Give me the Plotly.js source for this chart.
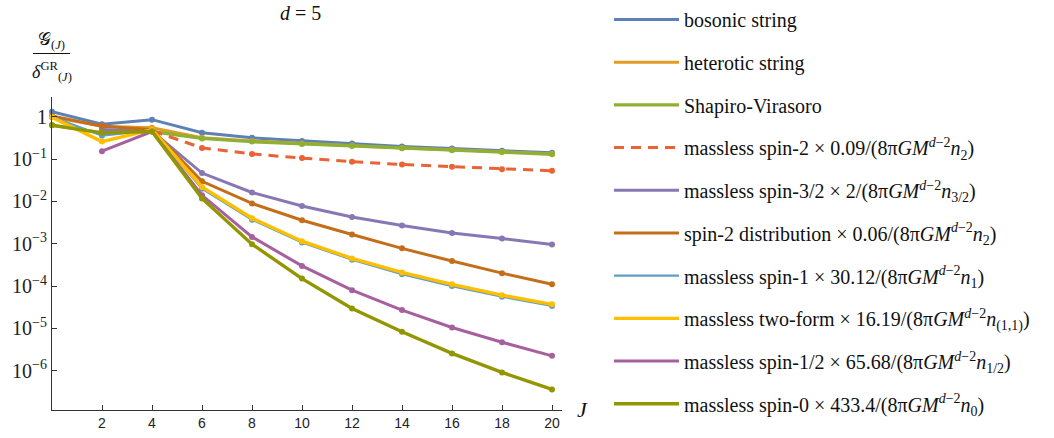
<!DOCTYPE html>
<html>
<head>
<meta charset="utf-8">
<script src="https://cdn.plot.ly/plotly-3.0.1.min.js"></script>
<style>html,body{margin:0;padding:0;background:#fff;}#chart{width:1054px;height:438px;}</style>
</head>
<body>
<div id="chart"></div>
<script>
// J values
const J = [0, 2, 4, 6, 8, 10, 12, 14, 16, 18, 20];

// Series values (null = no point)
const bosonic      = [1.33, 0.67, 0.86, 0.42, 0.32, 0.27, 0.235, 0.20, 0.178, 0.158, 0.141];
const heterotic    = [1.00, 0.60, 0.55, 0.32, 0.27, 0.235, 0.21, 0.185, 0.168, 0.150, 0.134];
const shapiro      = [0.64, 0.42, 0.45, 0.31, 0.26, 0.23, 0.205, 0.182, 0.163, 0.147, 0.131];
const spin2        = [null, 0.62, 0.47, 0.185, 0.133, 0.106, 0.087, 0.075, 0.066, 0.058, 0.053];
const spin32       = [null, 0.50, 0.46, 0.047, 0.0163, 0.0078, 0.0043, 0.0027, 0.0018, 0.00133, 0.00096];
const spin2dist    = [1.05, 0.60, 0.50, 0.030, 0.0090, 0.0036, 0.00166, 0.00078, 0.00039, 0.000202, 0.000110];
const spin1        = [1.00, 0.36, 0.48, 0.020, 0.0037, 0.00107, 0.00042, 0.00019, 0.000100, 0.000056, 0.000034];
const twoform      = [0.98, 0.26, 0.50, 0.022, 0.0040, 0.00115, 0.00045, 0.00021, 0.000110, 0.000061, 0.000037];
const spin12       = [null, 0.155, 0.45, 0.014, 0.00145, 0.00030, 0.000080, 0.000027, 0.0000105, 0.0000047, 0.00000224];
const spin0        = [0.63, 0.42, 0.45, 0.0118, 0.00098, 0.00015, 0.0000295, 0.0000083, 0.00000256, 0.00000091, 0.00000036];

const names = [
  "bosonic string",
  "heterotic string",
  "Shapiro-Virasoro",
  "massless spin-2 × 0.09/(8π<i>GM</i><sup><i>d</i>−2</sup><i>n</i><sub>2</sub>)",
  "massless spin-3/2 × 2/(8π<i>GM</i><sup><i>d</i>−2</sup><i>n</i><sub>3/2</sub>)",
  "spin-2 distribution × 0.06/(8π<i>GM</i><sup><i>d</i>−2</sup><i>n</i><sub>2</sub>)",
  "massless spin-1 × 30.12/(8π<i>GM</i><sup><i>d</i>−2</sup><i>n</i><sub>1</sub>)",
  "massless two-form × 16.19/(8π<i>GM</i><sup><i>d</i>−2</sup><i>n</i><sub>(1,1)</sub>)",
  "massless spin-1/2 × 65.68/(8π<i>GM</i><sup><i>d</i>−2</sup><i>n</i><sub>1/2</sub>)",
  "massless spin-0 × 433.4/(8π<i>GM</i><sup><i>d</i>−2</sup><i>n</i><sub>0</sub>)"
];
const series = [bosonic, heterotic, shapiro, spin2, spin32, spin2dist, spin1, twoform, spin12, spin0];
const colors = ["#5E81B5", "#E19C24", "#8FB032", "#EB6235", "#8778B3", "#C56E1A", "#5D9EC7", "#FFBF00", "#A5609D", "#929600"];
const widths = [3, 3, 3.4, 3, 3, 3, 2.2, 3.4, 3, 3.4];

const yTickVals = [1, 1e-1, 1e-2, 1e-3, 1e-4, 1e-5, 1e-6];
const yTickText = ["1", "10<sup>−1</sup>", "10<sup>−2</sup>", "10<sup>−3</sup>", "10<sup>−4</sup>", "10<sup>−5</sup>", "10<sup>−6</sup>"];
const xTickVals = [2, 4, 6, 8, 10, 12, 14, 16, 18, 20];

const traces = [];
series.forEach((s, i) => {
  traces.push({
    x: J, y: s, type: "scatter", mode: "lines",
    name: names[i], legendgroup: "g" + i,
    line: {color: colors[i], width: widths[i], dash: i === 3 ? "10px,7px" : "solid"},
    connectgaps: false, cliponaxis: false, hoverinfo: "skip"
  });
  traces.push({
    x: J, y: s, type: "scatter", mode: "markers",
    showlegend: false, legendgroup: "g" + i,
    marker: {color: colors[i], size: 6},
    cliponaxis: false, hoverinfo: "skip"
  });
});

const W = 1054, H = 438;
const L = 52, R = 562, T = 97, B = 410;
const px = (x) => (x - L) / (R - L);
const py = (y) => (B - y) / (B - T);
const SERIF = "'Liberation Serif', 'DejaVu Serif', serif";

const layout = {
  width: W, height: H,
  font: {family: SERIF},
  margin: {l: L, r: W - R, t: T, b: H - B, pad: 0, autoexpand: false},
  paper_bgcolor: "#fff", plot_bgcolor: "#fff",
  showlegend: true,
  legend: {
    x: px(609), xanchor: "left",
    yref: "container", y: 1, yanchor: "top",
    maxheight: 1,
    font: {family: SERIF, size: 20, color: "#111"},
    tracegroupgap: 13.7, itemwidth: 65, bgcolor: "rgba(0,0,0,0)",
    traceorder: "grouped", borderwidth: 0
  },
  xaxis: {
    range: [0, 20.4], showgrid: false, zeroline: false,
    showline: true, linecolor: "#333", linewidth: 1,
    ticks: "inside", ticklen: 5, tickcolor: "#333",
    tickvals: xTickVals, ticktext: xTickVals.map(String),
    tickfont: {family: "'Liberation Sans', Arial, sans-serif", size: 14, color: "#222"}
  },
  yaxis: {
    type: "log", range: [-6.93, 0.47], showgrid: false, zeroline: false,
    showline: true, linecolor: "#333", linewidth: 1,
    ticks: "inside", ticklen: 5, tickcolor: "#333",
    tickvals: yTickVals, ticktext: yTickText,
    tickfont: {family: SERIF, size: 20, color: "#222"}
  },
  annotations: [
    {text: "<i>d</i> = 5", xref: "paper", yref: "paper", x: px(300), y: py(13),
     xanchor: "center", yanchor: "middle", showarrow: false,
     font: {family: SERIF, size: 20, color: "#111"}},
    {text: "<i>J</i>", xref: "paper", yref: "paper", x: px(582), y: py(409),
     xanchor: "center", yanchor: "middle", showarrow: false,
     font: {family: SERIF, size: 22, color: "#111"}},
    {text: "𝒢<sub>(<i>J</i>)</sub>", xref: "paper", yref: "paper", x: px(51), y: py(41),
     xanchor: "center", yanchor: "middle", showarrow: false,
     font: {family: SERIF, size: 18, color: "#111"}},
    {text: "<i>δ</i><sup>GR</sup><sub>(<i>J</i>)</sub>", xref: "paper", yref: "paper", x: px(52), y: py(71),
     xanchor: "center", yanchor: "middle", showarrow: false,
     font: {family: SERIF, size: 18, color: "#111"}}
  ],
  shapes: [
    {type: "line", xref: "paper", yref: "paper", x0: px(33), x1: px(70), y0: py(53.5), y1: py(53.5),
     line: {color: "#111", width: 1}}
  ]
};

Plotly.newPlot("chart", traces, layout, {displayModeBar: false, staticPlot: true});
</script>
</body>
</html>
